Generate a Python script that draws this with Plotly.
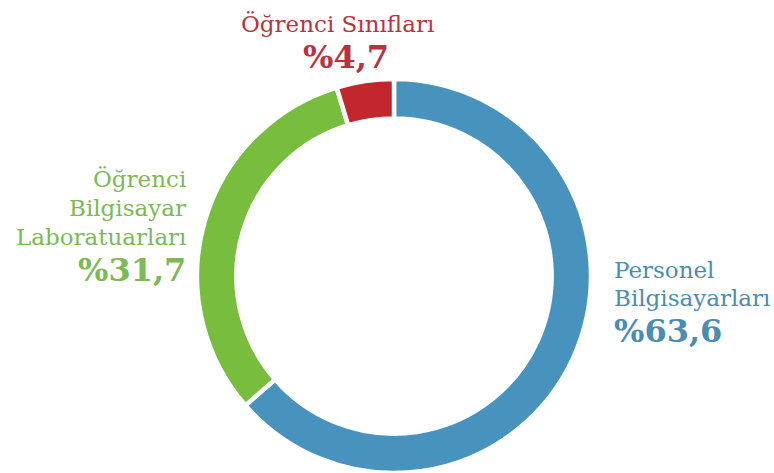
import plotly.graph_objects as go

W, H = 774, 473

categories = ["Personel Bilgisayarları", "Öğrenci Bilgisayar Laboratuarları", "Öğrenci Sınıfları"]
name_lines = [["Personel", "Bilgisayarları"], ["Öğrenci", "Bilgisayar", "Laboratuarları"], ["Öğrenci Sınıfları"]]
values = [63.6, 31.7, 4.7]

slice_colors = ["#4793BD", "#78BD3E", "#C1272D"]
text_colors = ["#4B8DB2", "#7DB955", "#B83340"]

FONT = "DejaVu Serif"


def pct(v):
    return "%" + f"{v:.1f}".replace(".", ",")


fig = go.Figure(
    go.Pie(
        labels=categories,
        values=values,
        hole=0.8,
        sort=False,
        direction="clockwise",
        rotation=0,
        marker=dict(colors=slice_colors, line=dict(color="white", width=4.5)),
        textinfo="none",
        hoverinfo="label+percent",
        showlegend=False,
        domain=dict(x=[197 / W, 591 / W], y=[0, 394 / H]),
    )
)


def px(x, y):
    return x / W, 1 - y / H


annotations = []
# layout: (anchor, x, [line centers], pct center)
layout_spec = [
    ("left", 612, [270, 298], 331),
    ("right", 188, [179, 208, 237], 270),
    ("center", 337, [24], 57),
]
for i, (anchor, x, ys, py) in enumerate(layout_spec):
    for line, y in zip(name_lines[i], ys):
        ax, ay = px(x, y)
        annotations.append(dict(text=line, x=ax, y=ay, xref="paper", yref="paper",
                                xanchor=anchor, yanchor="middle", showarrow=False,
                                font=dict(family=FONT, size=23, color=text_colors[i])))
    pxx = x + (9 if anchor == "center" else 0)
    ax, ay = px(pxx, py)
    annotations.append(dict(text="<b>" + pct(values[i]) + "</b>", x=ax, y=ay, xref="paper", yref="paper",
                            xanchor=anchor, yanchor="middle", showarrow=False,
                            font=dict(family=FONT, size=32, color=text_colors[i])))

fig.update_layout(
    width=W, height=H,
    margin=dict(l=0, r=0, t=0, b=0),
    paper_bgcolor="white", plot_bgcolor="white",
    annotations=annotations,
)

fig.write_html("out.html", config={"displayModeBar": False},
               post_script="document.body.style.margin='0';")
